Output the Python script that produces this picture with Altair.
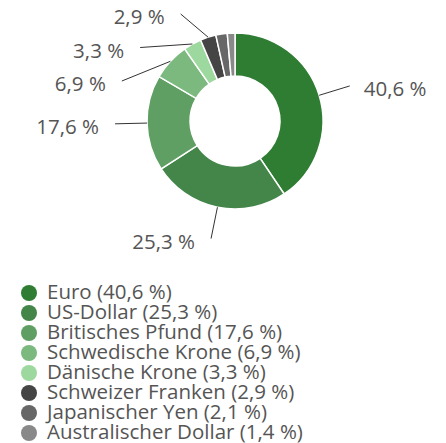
import math
import altair as alt
import pandas as pd

currencies = ["Euro", "US-Dollar", "Britisches Pfund", "Schwedische Krone",
              "Dänische Krone", "Schweizer Franken", "Japanischer Yen", "Australischer Dollar"]
shares = [40.6, 25.3, 17.6, 6.9, 3.3, 2.9, 2.1, 1.4]
share_text = ["40,6 %", "25,3 %", "17,6 %", "6,9 %", "3,3 %", "2,9 %", "2,1 %", "1,4 %"]
show_label = [True, True, True, True, True, True, False, False]
colors = ["#2e7d32", "#44864a", "#5f9f63", "#7bb97e", "#9dd89e", "#454545", "#676767", "#898989"]

W, H = 430, 435
CX, CY = 227, 113
R_IN, R_OUT = 45, 88
R_END = 120
FONT = "Open Sans"
FS = 20.5
TXT = "#555555"

legend_names = [f"{c} ({t})" for c, t in zip(currencies, share_text)]
df = pd.DataFrame({"name": legend_names, "value": shares, "idx": range(len(shares))})

# label layout: mid angle of each slice, then spread labels vertically
total = sum(shares)
cum = 0.0
items = []
for i, v in enumerate(shares):
    mid = (cum + v / 2) / total * 2 * math.pi
    cum += v
    if not show_label[i]:
        continue
    sx = CX + R_OUT * math.sin(mid)
    sy = CY - R_OUT * math.cos(mid)
    ny = CY - R_END * math.cos(mid)
    items.append({"i": i, "mid": mid, "sx": sx, "sy": sy, "ny": ny,
                  "side": "right" if math.sin(mid) > 0 else "left"})

for side in ("left", "right"):
    group = sorted([d for d in items if d["side"] == side], key=lambda d: d["ny"])
    prev = None
    for d in group:
        y = max(d["ny"], 6)
        if prev is not None:
            y = max(y, prev + 33.5)
        d["ey"] = y
        prev = y
for d in items:
    dy = max(-R_END, min(R_END, d["ey"] - CY))
    dx = math.sqrt(R_END ** 2 - dy ** 2)
    d["ex"] = CX + dx if d["side"] == "right" else CX - dx
    d["tx"] = d["ex"] + 14 if d["side"] == "right" else d["ex"] - 16
    d["ty"] = d["ey"] + 4
    d["label"] = share_text[d["i"]]

lab = pd.DataFrame(items)

color_scale = alt.Scale(domain=legend_names, range=colors)

arcs = alt.Chart(df).mark_arc(
    innerRadius=R_IN, outerRadius=R_OUT, stroke="white", strokeWidth=1.5
).encode(
    theta=alt.Theta("value:Q", stack=True),
    order=alt.Order("idx:Q"),
    fill=alt.Fill("name:N", sort=legend_names, scale=color_scale, legend=None),
    x=alt.value(CX), y=alt.value(CY),
)

lines = alt.Chart(lab).mark_rule(color="#333333", strokeWidth=1).encode(
    x=alt.X("sx:Q", scale=None), y=alt.Y("sy:Q", scale=None),
    x2="ex:Q", y2="ey:Q",
)

texts_l = alt.Chart(lab[lab.side == "left"]).mark_text(
    align="right", baseline="middle", font=FONT, fontSize=FS, color=TXT
).encode(x=alt.X("tx:Q", scale=None), y=alt.Y("ty:Q", scale=None), text="label:N")

texts_r = alt.Chart(lab[lab.side == "right"]).mark_text(
    align="left", baseline="middle", font=FONT, fontSize=FS, color=TXT
).encode(x=alt.X("tx:Q", scale=None), y=alt.Y("ty:Q", scale=None), text="label:N")

leg_y = alt.Y("name:N", sort=legend_names, axis=None,
              scale=alt.Scale(type="point", range=[285, 425], padding=0))

leg_dots = alt.Chart(df).mark_circle(size=256, opacity=1).encode(
    x=alt.value(21), y=leg_y,
    color=alt.Color("name:N", sort=legend_names, scale=color_scale, legend=None),
)

leg_text = alt.Chart(df).mark_text(
    align="left", baseline="middle", font=FONT, fontSize=FS, color=TXT
).encode(x=alt.value(39), y=leg_y, text="name:N")

chart = alt.layer(arcs, lines, texts_l, texts_r, leg_dots, leg_text).properties(
    width=W, height=H, autosize=alt.AutoSizeParams(type="none"), padding=0
).configure_view(stroke=None)

chart.save("out.html", embed_options={"renderer": "svg", "actions": False})
